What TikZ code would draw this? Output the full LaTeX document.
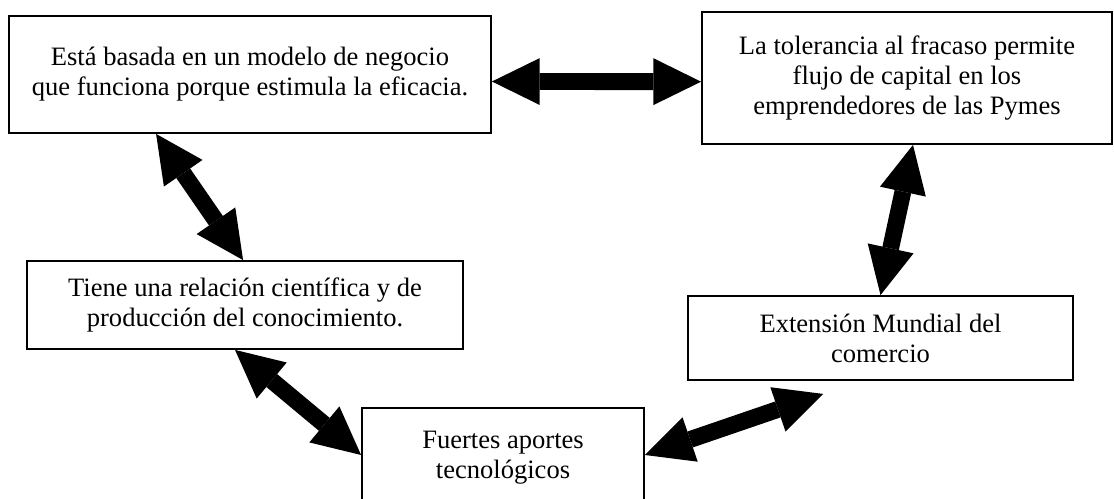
\documentclass[tikz,border=0pt]{standalone}
\usepackage{fontspec}
\setmainfont{Liberation Serif}
\usetikzlibrary{arrows.meta}
\usetikzlibrary{calc}

\begin{document}
\begin{tikzpicture}[x=0.452pt, y=-0.452pt,
    every node/.style={rectangle, draw, line width=0.8pt, align=center, inner sep=0pt, font=\fontsize{12}{13.6}\selectfont},
    tip/.style={Triangle[length=21.6pt, width=21.2pt, line width=0pt]},
    link/.style={line width=7.6pt, {Triangle[length=21.6pt, width=21.2pt, line width=0pt]}-{Triangle[length=21.6pt, width=21.2pt, line width=0pt]}}]
        \useasboundingbox (0, 0) rectangle (1114, 499);
        \clip (0, 0) rectangle (1114, 499);

        \node[minimum width=217.9pt, minimum height=52.9pt] (modelo) at (250, 74.5) {Está basada en un modelo de negocio\\que funciona porque estimula la eficacia.};

        \node[minimum width=185.3pt, minimum height=59.7pt] (tolerancia) at (907, 78) {La tolerancia al fracaso permite\\flujo de capital en los\\emprendedores de las Pymes};

        \node[minimum width=197.1pt, minimum height=39.8pt] (relacion) at (245, 305) {Tiene una relación científica y de\\producción del conocimiento.};

        \node[minimum width=174pt, minimum height=38pt] (extension) at (880.5, 338) {Extensión Mundial del\\comercio};

        \node[minimum width=127.5pt, minimum height=45.2pt] (aportes) at (503, 458) {Fuertes aportes\\tecnológicos};

        \coordinate (libre) at ($(extension.south west)+(136, 13)$);

        \draw[link] ($(modelo.east)+(0, 7)$) -- ($(tolerancia.west)+(0, 3.7)$);
        \draw[link] ($(modelo.south west)+(148, 0)$) -- ($(relacion.north west)+(217, 0)$);
        \draw[link] ($(tolerancia.south)+(6, 0)$) -- (extension.north);
        \draw[link] ($(relacion.south)+(-10, 0)$) -- ($(aportes.west)+(0, -3)$);
        \draw[link] ($(aportes.east)+(0, -3)$) -- (libre);
      \end{tikzpicture}
\end{document}
